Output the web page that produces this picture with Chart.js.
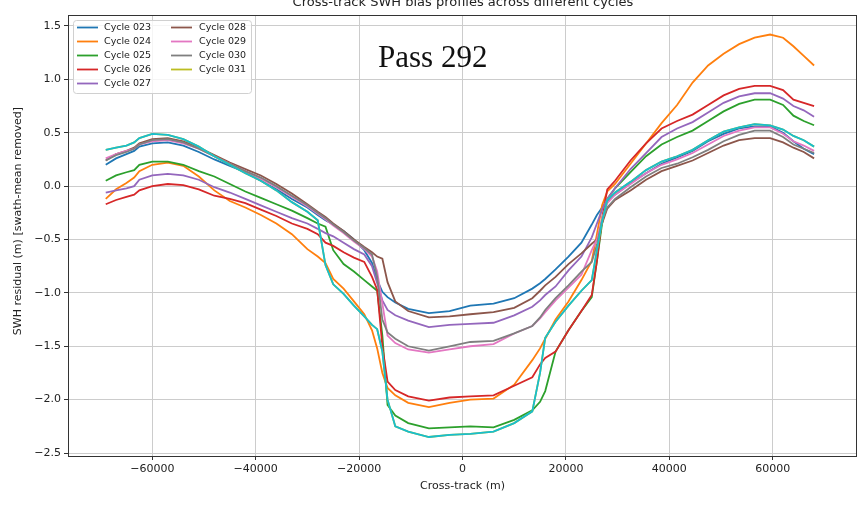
<!DOCTYPE html>
<html>
<head>
<meta charset="utf-8">
<title>Cross-track SWH bias profiles</title>
<script src="https://cdn.jsdelivr.net/npm/chart.js@4.4.1/dist/chart.umd.min.js"></script>
<style>
    html, body { margin: 0; padding: 0; background: #fff; }
    #wrap { width: 859px; height: 505px; position: relative; }
</style>
</head>
<body>
<div id="wrap"><canvas id="swhChart" width="859" height="505"></canvas></div>
<script>
// cross-track positions (m), shared by every cycle
const crossTrack = [
    -69000, -67000, -65000, -63500, -62500, -60000, -57000, -54000, -51000, -48000,
    -45000, -42000, -39000, -36000, -33000, -30000, -28000, -26500, -25000, -23000,
    -21000, -19000, -17500, -16500, -15500, -14500, -13000, -10500, -6500, -2500,
    1500, 6000, 10000, 13500, 15000, 16000, 18000, 20500, 23000, 25000,
    26000, 27000, 28000, 29500, 32500, 35500, 38500, 41500, 44500, 47500,
    50500, 53500, 56500, 59500, 62000, 64000, 66000, 68000
];

const cycle023 = [
    0.20, 0.26, 0.30, 0.33, 0.37, 0.40, 0.41, 0.38, 0.32, 0.25,
    0.19, 0.13, 0.05, -0.03, -0.12, -0.20, -0.27, -0.32, -0.36, -0.42,
    -0.50, -0.60, -0.72, -0.88, -0.99, -1.04, -1.09, -1.15, -1.19, -1.17,
    -1.12, -1.10, -1.05, -0.96, -0.91, -0.87, -0.78, -0.66, -0.53, -0.36,
    -0.27, -0.20, -0.14, -0.08, 0.03, 0.12, 0.21, 0.27, 0.33, 0.42,
    0.49, 0.54, 0.56, 0.56, 0.50, 0.42, 0.35, 0.30
];
const cycle024 = [
    -0.12, -0.03, 0.03, 0.08, 0.14, 0.20, 0.22, 0.19, 0.09, -0.04,
    -0.14, -0.20, -0.27, -0.35, -0.45, -0.59, -0.66, -0.72, -0.87, -0.96,
    -1.08, -1.20, -1.35, -1.52, -1.75, -1.89, -1.96, -2.03, -2.07, -2.03,
    -2.00, -1.99, -1.86, -1.63, -1.52, -1.43, -1.25, -1.08, -0.88, -0.70,
    -0.45, -0.18, -0.05, 0.02, 0.21, 0.40, 0.59, 0.76, 0.97, 1.13,
    1.24, 1.33, 1.39, 1.42, 1.39, 1.31, 1.22, 1.13
];
const cycle025 = [
    0.05, 0.10, 0.13, 0.15, 0.20, 0.23, 0.23, 0.20, 0.14, 0.09,
    0.02, -0.05, -0.11, -0.17, -0.23, -0.30, -0.35, -0.38, -0.60, -0.73,
    -0.80, -0.88, -0.94, -0.98, -1.40, -2.05, -2.15, -2.22, -2.27, -2.26,
    -2.25, -2.26, -2.19, -2.10, -2.02, -1.92, -1.55, -1.35, -1.17, -1.04,
    -0.70, -0.35, -0.12, -0.02, 0.13, 0.28, 0.39, 0.46, 0.52, 0.61,
    0.70, 0.77, 0.81, 0.81, 0.76, 0.66, 0.61, 0.57
];
const cycle026 = [
    -0.17, -0.13, -0.10, -0.08, -0.04, 0.00, 0.02, 0.01, -0.03, -0.09,
    -0.12, -0.16, -0.22, -0.28, -0.35, -0.40, -0.45, -0.53, -0.56, -0.62,
    -0.67, -0.71, -0.85, -0.97, -1.50, -1.83, -1.91, -1.97, -2.01, -1.98,
    -1.97, -1.96, -1.87, -1.79, -1.67, -1.61, -1.55, -1.35, -1.17, -1.02,
    -0.70, -0.30, -0.03, 0.05, 0.24, 0.40, 0.54, 0.61, 0.67, 0.76,
    0.85, 0.91, 0.94, 0.94, 0.90, 0.81, 0.78, 0.75
];
const cycle027 = [
    -0.06, -0.04, -0.02, 0.00, 0.06, 0.10, 0.115, 0.10, 0.06, -0.01,
    -0.06, -0.12, -0.18, -0.24, -0.30, -0.35, -0.40, -0.44, -0.47, -0.53,
    -0.59, -0.64, -0.75, -0.91, -1.07, -1.16, -1.21, -1.26, -1.32, -1.30,
    -1.29, -1.28, -1.21, -1.13, -1.07, -1.02, -0.94, -0.79, -0.66, -0.48,
    -0.35, -0.22, -0.12, -0.02, 0.16, 0.31, 0.46, 0.54, 0.60, 0.69,
    0.78, 0.84, 0.87, 0.87, 0.82, 0.75, 0.71, 0.65
];
const cycle028 = [
    0.24, 0.30, 0.33, 0.36, 0.40, 0.44, 0.45, 0.42, 0.36, 0.29,
    0.22, 0.16, 0.10, 0.02, -0.07, -0.17, -0.24, -0.29, -0.35, -0.42,
    -0.50, -0.57, -0.62, -0.66, -0.68, -0.90, -1.08, -1.17, -1.23, -1.22,
    -1.20, -1.18, -1.14, -1.05, -0.98, -0.93, -0.85, -0.73, -0.63, -0.54,
    -0.50, -0.35, -0.21, -0.13, -0.04, 0.06, 0.14, 0.19, 0.24, 0.31,
    0.38, 0.43, 0.45, 0.45, 0.41, 0.36, 0.32, 0.26
];
const cycle029 = [
    0.26, 0.30, 0.33, 0.35, 0.39, 0.42, 0.43, 0.40, 0.35, 0.28,
    0.21, 0.14, 0.07, -0.01, -0.10, -0.19, -0.26, -0.31, -0.37, -0.44,
    -0.52, -0.59, -0.66, -0.80, -1.10, -1.40, -1.47, -1.53, -1.56, -1.53,
    -1.50, -1.48, -1.38, -1.31, -1.24, -1.18, -1.07, -0.95, -0.83, -0.60,
    -0.50, -0.30, -0.16, -0.08, 0.02, 0.12, 0.20, 0.25, 0.31, 0.39,
    0.47, 0.52, 0.55, 0.55, 0.49, 0.42, 0.38, 0.33
];
const cycle030 = [
    0.24, 0.29, 0.32, 0.35, 0.39, 0.43, 0.44, 0.41, 0.35, 0.28,
    0.21, 0.14, 0.08, 0.00, -0.09, -0.18, -0.25, -0.30, -0.36, -0.43,
    -0.51, -0.58, -0.64, -0.85, -1.25, -1.37, -1.43, -1.50, -1.54, -1.50,
    -1.46, -1.45, -1.38, -1.31, -1.23, -1.16, -1.05, -0.93, -0.80, -0.71,
    -0.55, -0.32, -0.20, -0.12, -0.01, 0.09, 0.17, 0.21, 0.27, 0.34,
    0.42, 0.48, 0.52, 0.52, 0.46, 0.39, 0.35, 0.31
];
// 031 sits right under the unlabelled cyan profile in the figure
const cycle031 = [
    0.34, 0.36, 0.38, 0.41, 0.45, 0.49, 0.48, 0.44, 0.37, 0.28,
    0.20, 0.12, 0.05, -0.04, -0.15, -0.24, -0.32, -0.74, -0.92, -1.01,
    -1.12, -1.22, -1.30, -1.34, -1.55, -2.00, -2.25, -2.30, -2.35, -2.33,
    -2.32, -2.30, -2.22, -2.11, -1.75, -1.42, -1.27, -1.12, -0.98, -0.88,
    -0.60, -0.33, -0.13, -0.06, 0.04, 0.15, 0.23, 0.28, 0.34, 0.43,
    0.51, 0.55, 0.58, 0.57, 0.53, 0.47, 0.43, 0.37
];
const cycleExtra = cycle031;

const cycleLabels = ['Cycle 023', 'Cycle 024', 'Cycle 025', 'Cycle 026', 'Cycle 027',
                     'Cycle 028', 'Cycle 029', 'Cycle 030', 'Cycle 031', ''];
const cycleValues = [cycle023, cycle024, cycle025, cycle026, cycle027,
                     cycle028, cycle029, cycle030, cycle031, cycleExtra];
const cycleColors = ['#1f77b4', '#ff7f0e', '#2ca02c', '#d62728', '#9467bd',
                     '#8c564b', '#e377c2', '#7f7f7f', '#bcbd22', '#17becf'];

const xTicks = [-60000, -40000, -20000, 0, 20000, 40000, 60000];
const yTicks = [-2.5, -2.0, -1.5, -1.0, -0.5, 0.0, 0.5, 1.0, 1.5];

const FONT = '"DejaVu Sans", sans-serif';
const minus = s => String(s).replace('-', '\u2212');

const datasets = cycleValues.map((vals, i) => ({
    label: cycleLabels[i],
    data: vals.map((v, j) => ({ x: crossTrack[j], y: v })),
    borderColor: cycleColors[i],
    backgroundColor: cycleColors[i],
    borderWidth: 1.8,
    pointRadius: 0,
    tension: 0,
    fill: false,
    order: cycleValues.length - i   // later cycles drawn on top, like matplotlib
}));

// frame, texts and the two-column legend
const decorations = {
    id: 'decorations',
    afterDraw(chart) {
        const c = chart.ctx;
        const a = chart.chartArea;
        c.save();

        c.strokeStyle = '#333';
        c.lineWidth = 1;
        c.strokeRect(a.left + 0.5, a.top + 0.5, a.right - a.left - 1, a.bottom - a.top);

        c.fillStyle = '#222';
        c.textAlign = 'center';
        c.textBaseline = 'alphabetic';
        c.font = '13px ' + FONT;
        c.fillText('Cross-track SWH bias profiles across different cycles', 463, 6);

        c.font = '11px ' + FONT;
        c.textBaseline = 'middle';
        c.fillText('Cross-track (m)', (a.left + a.right) / 2, 486);

        c.save();
        c.translate(18, 221);
        c.rotate(-Math.PI / 2);
        c.fillText('SWH residual (m) [swath-mean removed]', 0, 0);
        c.restore();

        c.fillStyle = '#111';
        c.textAlign = 'left';
        c.textBaseline = 'alphabetic';
        c.font = '31px "Liberation Serif", "DejaVu Serif", serif';
        c.fillText('Pass 292', 378, 67);

        // legend box
        const bx = 73.5, by = 20.5, bw = 178, bh = 73, r = 3;
        c.beginPath();
        c.moveTo(bx + r, by);
        c.arcTo(bx + bw, by, bx + bw, by + bh, r);
        c.arcTo(bx + bw, by + bh, bx, by + bh, r);
        c.arcTo(bx, by + bh, bx, by, r);
        c.arcTo(bx, by, bx + bw, by, r);
        c.closePath();
        c.fillStyle = 'rgba(255,255,255,0.8)';
        c.fill();
        c.strokeStyle = '#d0d0d0';
        c.lineWidth = 1;
        c.stroke();

        c.font = '9.5px ' + FONT;
        c.textBaseline = 'middle';
        const named = chart.data.datasets.filter(d => d.label);
        named.forEach((d, i) => {
            const col = i < 5 ? 0 : 1;
            const row = i < 5 ? i : i - 5;
            const hx = col === 0 ? 77 : 171;
            const tx = col === 0 ? 104 : 199;
            const y = 27.5 + row * 14;
            c.strokeStyle = d.borderColor;
            c.lineWidth = 1.8;
            c.beginPath();
            c.moveTo(hx, y);
            c.lineTo(hx + 21, y);
            c.stroke();
            c.fillStyle = '#222';
            c.fillText(d.label, tx, y + 0.5);
        });

        c.restore();
    }
};

const ctx = document.getElementById('swhChart').getContext('2d');
const chart = new Chart(ctx, {
    type: 'line',
    data: { datasets: datasets },
    options: {
        responsive: false,
        animation: false,
        layout: { padding: { top: 15, right: 2, left: 0, bottom: 0 } },
        plugins: {
            legend: { display: false },
            title: { display: false },
            tooltip: { enabled: false }
        },
        scales: {
            x: {
                type: 'linear',
                min: -76300,
                max: 76300,
                afterFit: s => { s.height = 49; },
                afterBuildTicks: s => { s.ticks = xTicks.map(v => ({ value: v })); },
                grid: { color: '#cccccc', lineWidth: 1, tickLength: 4, tickColor: '#333' },
                border: { display: false },
                ticks: {
                    color: '#222',
                    padding: 3,
                    maxRotation: 0,
                    font: { family: FONT, size: 11 },
                    callback: v => minus(v)
                }
            },
            y: {
                min: -2.528,
                max: 1.603,
                afterFit: s => { s.width = 68; },
                afterBuildTicks: s => { s.ticks = yTicks.map(v => ({ value: v })); },
                grid: { color: '#cccccc', lineWidth: 1, tickLength: 4, tickColor: '#333' },
                border: { display: false },
                ticks: {
                    color: '#222',
                    padding: 3,
                    font: { family: FONT, size: 11 },
                    callback: v => minus(v.toFixed(1))
                }
            }
        }
    },
    plugins: [decorations]
});
</script>
</body>
</html>
